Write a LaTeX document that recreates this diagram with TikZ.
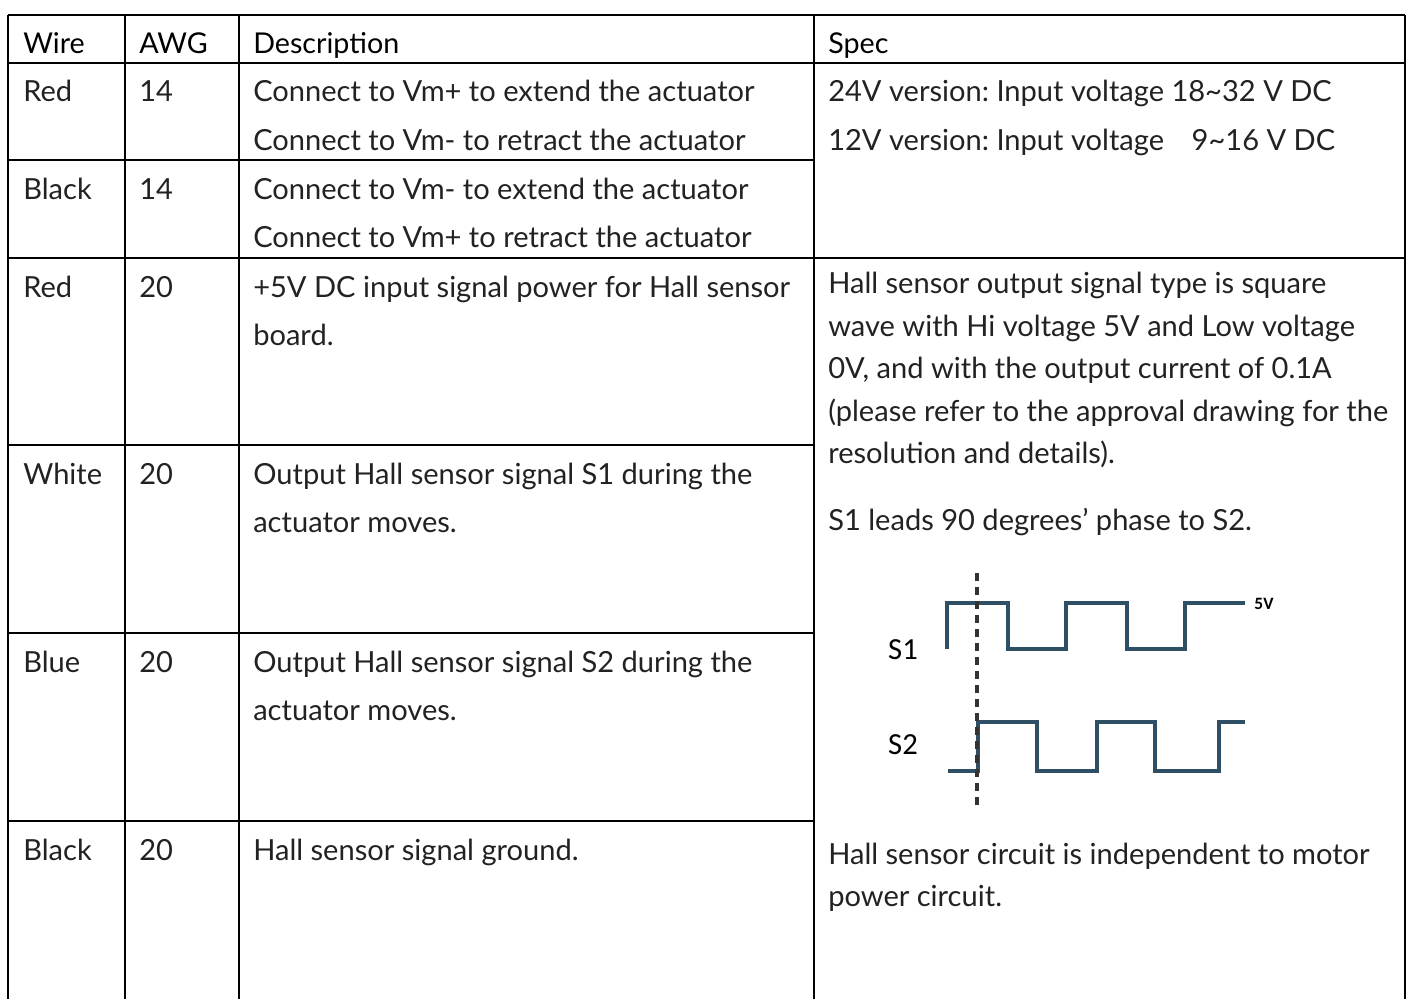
\documentclass[tikz,border=0pt]{standalone}
\usepackage{fontspec}
\setmainfont{Lato}
\newfontfamily\calfont{Carlito}
\definecolor{wave}{HTML}{2F4F65}
\definecolor{txt}{HTML}{222222}
\frenchspacing
\begin{document}
\begin{tikzpicture}[x=0.75pt,y=-0.75pt,
  grid/.style={line width=2.1pt,black},
  body/.style={anchor=base west,inner sep=0pt,font=\fontsize{21.8}{26}\selectfont,text=txt},
  head/.style={anchor=base west,inner sep=0pt,font=\fontsize{21.5}{26}\selectfont,text=black},
  sig/.style={line width=2.8pt,wave,line join=miter},
  slabel/.style={inner sep=0pt,font=\calfont\fontsize{23}{27}\selectfont,text=black}]
\useasboundingbox (0,0) rectangle (1410,999);
% grid
\draw[grid] (8,15) -- (1405,15);
\draw[grid] (8,63) -- (1405,63);
\draw[grid] (8,160) -- (814,160);
\draw[grid] (8,258) -- (1405,258);
\draw[grid] (8,445) -- (814,445);
\draw[grid] (8,633) -- (814,633);
\draw[grid] (8,821) -- (814,821);
\foreach \xx in {8,125,239,814,1405} \draw[grid] (\xx,15) -- (\xx,999);
% header
\node[head] (h1) at (23,54) {Wire};
\node[head] (h2) at (139,54) {AWG};
\node[head] (h3) at (253,54) {Description};
\node[head] (h4) at (828,54) {Spec};
% rows
\node[body] (w1) at (23,102) {Red};
\node[body] (a1) at (139,102) {14};
\node[body] (d1a) at (253,102) {Connect to Vm+ to extend the actuator};
\node[body] (d1b) at (253,150) {Connect to Vm- to retract the actuator};
\node[body] (w2) at (23,199) {Black};
\node[body] (a2) at (139,199) {14};
\node[body] (d2a) at (253,199) {Connect to Vm- to extend the actuator};
\node[body] (d2b) at (253,247) {Connect to Vm+ to retract the actuator};
\node[body] (w3) at (23,297) {Red};
\node[body] (a3) at (139,297) {20};
\node[body] (d3a) at (253,297) {+5V DC input signal power for Hall sensor};
\node[body] (d3b) at (253,345) {board.};
\node[body] (w4) at (23,484) {White};
\node[body] (a4) at (139,484) {20};
\node[body] (d4a) at (253,484) {Output Hall sensor signal S1 during the};
\node[body] (d4b) at (253,532) {actuator moves.};
\node[body] (w5) at (23,672) {Blue};
\node[body] (a5) at (139,672) {20};
\node[body] (d5a) at (253,672) {Output Hall sensor signal S2 during the};
\node[body] (d5b) at (253,720) {actuator moves.};
\node[body] (w6) at (23,860) {Black};
\node[body] (a6) at (139,860) {20};
\node[body] (d6a) at (253,860) {Hall sensor signal ground.};
% spec
\node[body] (s1) at (828,102) {24V version: Input voltage 18\textasciitilde 32 V DC};
\node[body] (s2) at (828,150) {12V version: Input voltage\hspace{0.95em}9\textasciitilde 16 V DC};
\node[body] (s3) at (828,293) {Hall sensor output signal type is square};
\node[body] (s4) at (828,336) {wave with Hi voltage 5V and Low voltage};
\node[body] (s5) at (828,378) {0V, and with the output current of 0.1A};
\node[body] (s6) at (828,421) {(please refer to the approval drawing for the};
\node[body] (s7) at (828,463) {resolution and details).};
\node[body] (s8) at (828,530) {S1 leads 90 degrees’ phase to S2.};
\node[body] (s9) at (828,864) {Hall sensor circuit is independent to motor};
\node[body] (s10) at (828,906) {power circuit.};
% waveform
\draw[sig] (947,649) -- (947,603) -- (1008,603) -- (1008,649) -- (1066,649) -- (1066,603)
  -- (1127,603) -- (1127,649) -- (1185,649) -- (1185,603) -- (1245,603);
\draw[sig] (948,771) -- (978,771) -- (978,722) -- (1037,722) -- (1037,771) -- (1097,771)
  -- (1097,722) -- (1155,722) -- (1155,771) -- (1219,771) -- (1219,722) -- (1245,722);
\draw[line width=2.8pt,black!80,dash pattern=on 6pt off 4.5pt] (977,573) -- (977,805);
\node[slabel] (l1) at (903,650) {S1};
\node[slabel] (l2) at (903,745) {S2};
\node[inner sep=0pt,font=\calfont\bfseries\fontsize{13}{15}\selectfont] (v5) at (1264,604) {5V};
\end{tikzpicture}
\end{document}
